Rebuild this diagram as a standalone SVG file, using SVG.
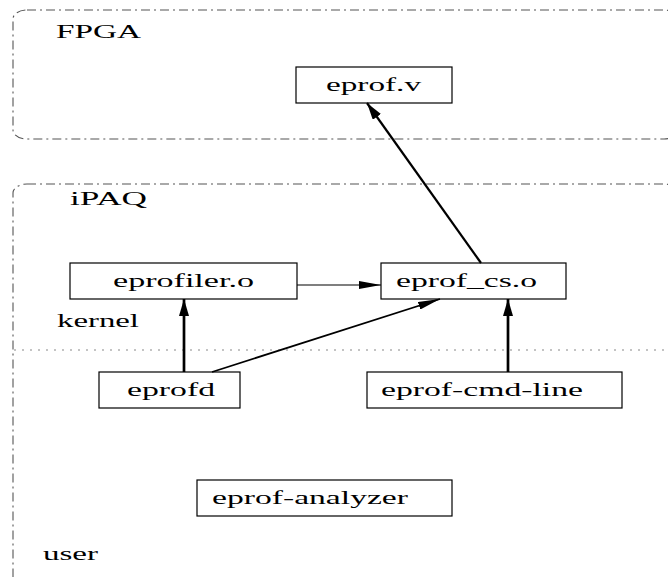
<svg xmlns="http://www.w3.org/2000/svg" width="668" height="577" viewBox="0 0 668 577">
<style>
  .grp { fill: none; stroke: #555; stroke-width: 1.1; stroke-dasharray: 9 4 2 4; }
  .node rect { fill: #fff; stroke: #000; stroke-width: 1.2; }
  text { font-family: "Liberation Serif", "Times New Roman", serif; font-size: 19px; fill: #000; }
  .sep { stroke: #888; stroke-width: 1.1; stroke-dasharray: 2 6; }
  .edge { fill: none; stroke: #000; }
</style>
<defs>
  <marker id="ah" markerUnits="userSpaceOnUse" markerWidth="17" markerHeight="10" viewBox="0 0 17 10" refX="17" refY="5" orient="auto">
    <path d="M0,0 L17,5 L0,10 z" fill="#000"/>
  </marker>
  <marker id="ahH" markerUnits="userSpaceOnUse" markerWidth="22" markerHeight="8" viewBox="0 0 22 8" refX="22" refY="4" orient="auto">
    <path d="M0,0 L22,4 L0,8 z" fill="#000"/>
  </marker>
</defs>
<rect width="668" height="577" fill="#fff"/>

<g id="FPGA">
  <rect class="grp" x="13" y="10" width="665" height="129" rx="14" ry="9"/>
  <text x="56" y="38" textLength="85" lengthAdjust="spacingAndGlyphs">FPGA</text>
</g>
<g id="iPAQ">
  <rect class="grp" x="13" y="184" width="665" height="420" rx="14" ry="9"/>
  <text x="70" y="205" textLength="77" lengthAdjust="spacingAndGlyphs">iPAQ</text>
  <line class="sep" x1="14" y1="350" x2="668" y2="350"/>
  <text x="57" y="327" textLength="82" lengthAdjust="spacingAndGlyphs">kernel</text>
  <text x="43" y="560" textLength="55" lengthAdjust="spacingAndGlyphs">user</text>
</g>

<g id="eprof-v" class="node">
  <rect x="296" y="67" width="156" height="36"/>
  <text x="326" y="91" textLength="95" lengthAdjust="spacingAndGlyphs">eprof.v</text>
</g>
<g id="eprofiler-o" class="node">
  <rect x="70" y="263" width="227" height="36"/>
  <text x="113" y="287" textLength="141" lengthAdjust="spacingAndGlyphs">eprofiler.o</text>
</g>
<g id="eprof-cs-o" class="node">
  <rect x="381" y="263" width="185" height="36"/>
  <text x="396" y="287" textLength="141" lengthAdjust="spacingAndGlyphs">eprof_cs.o</text>
</g>
<g id="eprofd" class="node">
  <rect x="99" y="372" width="141" height="36"/>
  <text x="127" y="396" textLength="88" lengthAdjust="spacingAndGlyphs">eprofd</text>
</g>
<g id="eprof-cmd-line" class="node">
  <rect x="367" y="372" width="255" height="36"/>
  <text x="381" y="396" textLength="202" lengthAdjust="spacingAndGlyphs">eprof-cmd-line</text>
</g>
<g id="eprof-analyzer" class="node">
  <rect x="197" y="480" width="255" height="36"/>
  <text x="212" y="504" textLength="196" lengthAdjust="spacingAndGlyphs">eprof-analyzer</text>
</g>

<g id="connectors">
  <line class="edge" x1="481" y1="263" x2="367" y2="103" stroke-width="2.2" marker-end="url(#ah)"/>
  <line class="edge" x1="297" y1="285" x2="381" y2="285" stroke-width="1.2" marker-end="url(#ahH)"/>
  <line class="edge" x1="184" y1="372" x2="184" y2="299" stroke-width="2.7" marker-end="url(#ah)"/>
  <line class="edge" x1="508" y1="372" x2="508" y2="299" stroke-width="2.7" marker-end="url(#ah)"/>
  <line class="edge" x1="212" y1="372" x2="440" y2="299" stroke-width="1.8" marker-end="url(#ahH)"/>
</g>
</svg>
